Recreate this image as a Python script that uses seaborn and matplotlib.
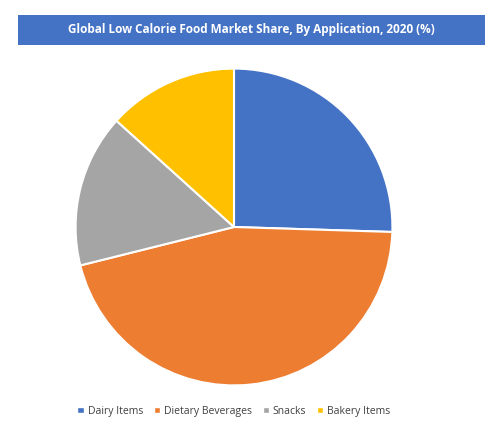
import matplotlib
matplotlib.use("Agg")
import matplotlib.pyplot as plt
import seaborn as sns
from matplotlib.patches import Rectangle, Patch

sns.set_theme(style="white")
plt.rcParams['font.family'] = ['Open Sans', 'DejaVu Sans']

categories = ["Dairy Items", "Dietary Beverages", "Snacks", "Bakery Items"]
values = [25.5, 45.6, 15.6, 13.3]
colors = ["#4472C4", "#ED7D31", "#A5A5A5", "#FFC000"]
title = "Global Low Calorie Food Market Share, By Application, 2020 (%)"

fig = plt.figure(figsize=(5.02, 4.36), dpi=100)
fig.patches.append(Rectangle((18/502, 1-45/436), 467/502, 30/436, transform=fig.transFigure,
                             facecolor="#4472C4", edgecolor="none"))
fig.text(251/502, 1-29/436, title, ha="center", va="center", color="white",
         fontsize=8.5, fontweight="bold")

ax = fig.add_axes([(234-160)/502, 1-(227+160)/436, 320/502, 320/436])
ax.pie(values, colors=colors, startangle=90, counterclock=False,
       wedgeprops=dict(edgecolor="white", linewidth=1.5))
ax.set_xlim(-1.01, 1.01)
ax.set_ylim(-1.01, 1.01)
ax.set_aspect("equal")
ax.axis("off")

handles = [Patch(facecolor=c, label=l) for c, l in zip(colors, categories)]
fig.legend(handles=handles, loc="center", bbox_to_anchor=(234/502, 1-411/436), ncol=4,
           frameon=False, fontsize=7.5, handlelength=0.6, handleheight=0.6,
           columnspacing=1.0, handletextpad=0.4, labelcolor="#404040")
fig.savefig("out.png", dpi=100)
